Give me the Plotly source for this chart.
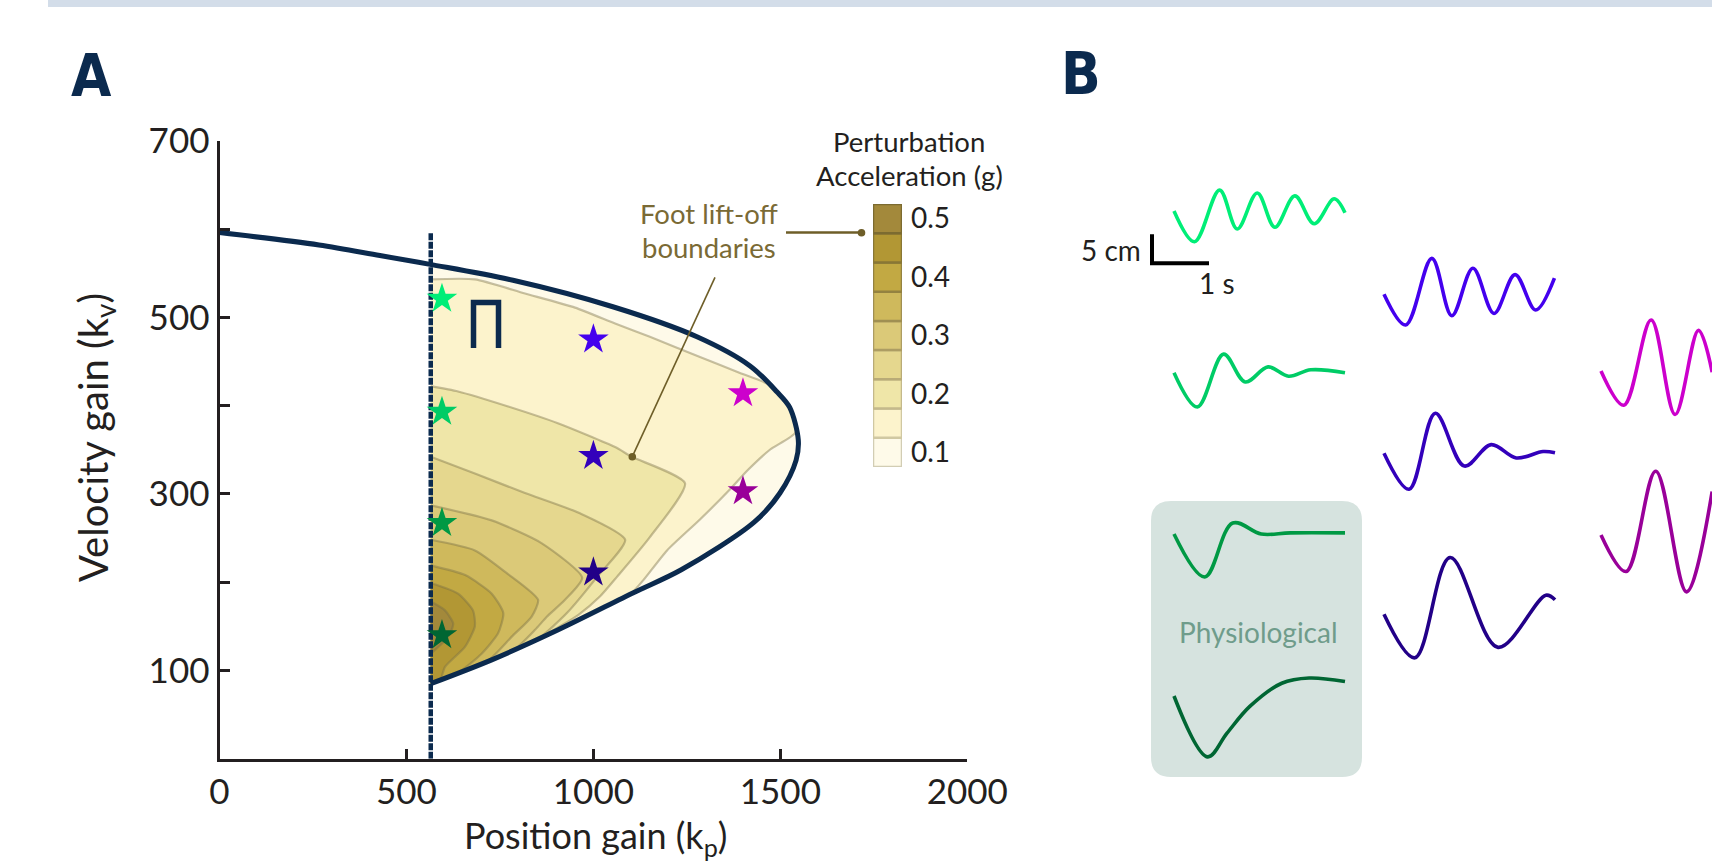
import plotly.graph_objects as go
import numpy as np

W, H = 1712, 862

# ---------------- data ----------------
levels = [0.10, 0.15, 0.20, 0.25, 0.30, 0.35, 0.40, 0.45, 0.50]
level_colors = ['#fefae9', '#fcf3cc', '#efe6a8', '#e5d78e', '#dbc978',
                '#cfb95c', '#c2a943', '#b29734', '#a3893b']
level_edges = ['#d2cdb4', '#d0c8a2', '#c4b98b', '#b9ab77', '#ad9d63',
               '#a08f52', '#948240', '#897735', '#7c6b30']

# stability boundary (position gain kp, velocity gain kv): upper branch, nose, lower branch
bound_kp = [0, 266, 429, 563, 785, 1052, 1277, 1419, 1490, 1525, 1548,
            1542, 1499, 1430, 1235, 1107, 906, 728, 565]
bound_kv = [596, 582, 570, 560, 542, 512, 478, 445, 416, 398, 361,
            338, 301, 268, 214, 188, 146, 112, 85]
kp_min = 565          # vertical (dotted) boundary
kp_min_top = 597

# contour lines of perturbation acceleration (lower level -> higher)
c015_kp = [565, 683, 817, 951, 1058, 1151, 1285, 1392, 1464, 1490, 1525, 1541,
           1472, 1413, 1365, 1285, 1197, 1133, 1100]
c015_kv = [543, 543, 527, 511, 493, 478, 455, 437, 425, 415, 397, 370,
           350, 327, 305, 271, 236, 202, 187]
c020_kp = [565, 638, 772, 905, 1058, 1103, 1245, 1151, 1063, 1018, 960, 870]
c020_kv = [422, 416, 399, 380, 353, 342, 312, 251, 206, 184, 163, 140]
c025_kp = [565, 683, 817, 964, 1085, 1010, 929, 850]
c025_kv = [342, 323, 301, 278, 248, 206, 165, 135]
c030_kp = [565, 728, 862, 970, 924, 876, 844, 790]
c030_kv = [287, 270, 244, 205, 180, 161, 146, 124]
c035_kp = [565, 683, 769, 852, 835, 781, 718]
c035_kv = [248, 236, 210, 180, 161, 138, 111]
c040_kp = [565, 657, 728, 759, 745, 701, 640]
c040_kv = [219, 208, 187, 165, 142, 119, 98]
c045_kp = [565, 638, 678, 683, 657, 603, 590]
c045_kv = [199, 187, 168, 150, 127, 104, 89]
c050_kp = [565, 603, 625, 612, 565]
c050_kv = [178, 168, 153, 138, 119]
contours = [(c015_kp, c015_kv), (c020_kp, c020_kv), (c025_kp, c025_kv),
            (c030_kp, c030_kv), (c035_kp, c035_kv), (c040_kp, c040_kv),
            (c045_kp, c045_kv), (c050_kp, c050_kv)]

# example gains (stars) and their colours
star_kp = [595, 595, 595, 595, 1000, 1000, 1000, 1400, 1400]
star_kv = [521, 393, 267, 140, 475, 343, 211, 414, 303]
star_colors = ['#00ee77', '#00cc66', '#009944', '#006633',
               '#4400ee', '#3300bb', '#220088', '#cc00cc', '#990099']

# axis ticks
x_ticks = [0, 500, 1000, 1500, 2000]
y_ticks = [100, 300, 500, 700]
y_minor = [200, 400, 600]
cb_ticks = [0.1, 0.2, 0.3, 0.4, 0.5]

# sway responses (time s, displacement cm)
g1_t = [0, 0.36, 0.80, 1.11, 1.46, 1.77, 2.12, 2.46, 2.81, 3.0]
g1_d = [0, -5.3, 3.6, -3.1, 3.1, -2.8, 2.6, -2.2, 2.1, -0.3]
g2_t = [0, 0.41, 0.87, 1.25, 1.65, 2.01, 2.40, 3.0]
g2_d = [0, -5.9, 3.2, -1.6, 1.0, -0.6, 0.5, 0.0]
g3_t = [0, 0.54, 1.03, 1.53, 2.04, 3.0]
g3_d = [0, -7.4, 1.9, 0.0, 0.2, 0.2]
g4_t = [0, 0.59, 0.93, 1.33, 1.89, 2.37, 3.0]
g4_d = [0, -10.5, -6.4, -1.8, 2.2, 3.1, 2.5]
p1_t = [0, 0.38, 0.84, 1.19, 1.56, 1.93, 2.30, 2.66, 2.99]
p1_d = [0, -5.3, 6.2, -3.7, 4.5, -3.3, 3.4, -2.7, 2.8]
p2_t = [0, 0.44, 0.90, 1.41, 1.88, 2.32, 2.79, 3.0]
p2_d = [0, -6.2, 6.9, -2.2, 1.5, -0.8, 0.3, 0.1]
p3_t = [0, 0.54, 1.16, 2.00, 2.84, 3.0]
p3_d = [0, -7.5, 9.8, -5.7, 3.3, 2.5]
m1_t = [0, 0.40, 0.88, 1.30, 1.71, 1.95]
m1_d = [0, -5.9, 8.8, -7.5, 7.0, -0.2]
m2_t = [0, 0.44, 0.96, 1.50, 1.95]
m2_d = [0, -6.3, 11.0, -9.8, 7.5]

scale_t = 1.0   # s
scale_d = 5.0   # cm

# ---------------- helpers (layout positions in pixels) ----------------
def fx(x):
    return x / W


def fy(y):
    return 1 - y / H


TXT = '#231f20'
NAVY = '#0b2a4e'
OLIVE = '#6e5e28'
FONT = 'Lato, "Open Sans", sans-serif'

fig = go.Figure()

# ---------------- panel A: contour fills ----------------
nose = int(np.argmax(bound_kp))
up_kp, up_kv = bound_kp[:nose + 1], bound_kv[:nose + 1]
lo_kp, lo_kv = bound_kp[nose:], bound_kv[nose:]

top_kv = float(np.interp(kp_min, up_kp, up_kv))
r0x = [kp_min] + [a for a in up_kp if a > kp_min] + lo_kp[1:]
r0y = [top_kv] + [b for a, b in zip(up_kp, up_kv) if a > kp_min] + lo_kv[1:]
fig.add_trace(go.Scatter(x=r0x, y=r0y, mode='lines', fill='toself',
                         fillcolor=level_colors[0],
                         line=dict(width=0, shape='spline', smoothing=0.8),
                         hoverinfo='skip', showlegend=False))

for k, (lkp, lkv) in enumerate(contours, start=1):
    xs, ys = list(lkp), list(lkv)
    end = lkp[-1]
    for a, b in zip(lo_kp, lo_kv):
        if a < end - 1e-9:
            xs.append(a); ys.append(b)
    fig.add_trace(go.Scatter(x=xs, y=ys, mode='lines', fill='toself',
                             fillcolor=level_colors[k],
                             line=dict(color='rgba(120,110,70,0.42)', width=2.2,
                                       shape='spline', smoothing=0.6),
                             hoverinfo='skip', showlegend=False))

# boundary curve
fig.add_trace(go.Scatter(x=bound_kp, y=bound_kv, mode='lines',
                         line=dict(color=NAVY, width=5, shape='spline', smoothing=0.9),
                         hoverinfo='skip', showlegend=False))
# vertical dotted boundary
fig.add_trace(go.Scatter(x=[kp_min, kp_min], y=[0, kp_min_top], mode='lines',
                         line=dict(color=NAVY, width=4.5, dash='7px,1.5px'),
                         hoverinfo='skip', showlegend=False))
# stars
fig.add_trace(go.Scatter(x=star_kp, y=star_kv, mode='markers',
                         marker=dict(symbol='star', size=23, color=star_colors,
                                     line=dict(width=0)),
                         hoverinfo='skip', showlegend=False))

# ---------------- colour bar (panel A) ----------------
fig.add_trace(go.Bar(x=[0] * len(levels), y=[0.05] * len(levels),
                     base=[v - 0.025 for v in levels], width=1,
                     marker=dict(color=level_colors,
                                 line=dict(color=level_edges, width=2.5)),
                     xaxis='x3', yaxis='y3', hoverinfo='skip', showlegend=False))

# ---------------- panel B: sway traces ----------------
col_t0 = [(1174 - 1040) / 57, (1384 - 1040) / 57, (1601 - 1040) / 57]
cm_per_px = 5 / 29


def row(py):
    return (H - py) * cm_per_px


waves = [
    (g1_t, g1_d, star_colors[0], col_t0[0], row(211)),
    (g2_t, g2_d, star_colors[1], col_t0[0], row(372.7)),
    (g3_t, g3_d, star_colors[2], col_t0[0], row(534)),
    (g4_t, g4_d, star_colors[3], col_t0[0], row(696)),
    (p1_t, p1_d, star_colors[4], col_t0[1], row(294.3)),
    (p2_t, p2_d, star_colors[5], col_t0[1], row(453.3)),
    (p3_t, p3_d, star_colors[6], col_t0[1], row(614.3)),
    (m1_t, m1_d, star_colors[7], col_t0[2], row(371)),
    (m2_t, m2_d, star_colors[8], col_t0[2], row(535)),
]
for t, d, c, t0, y0 in waves:
    fig.add_trace(go.Scatter(x=[t0 + v for v in t], y=[y0 + v for v in d],
                             mode='lines', xaxis='x2', yaxis='y2',
                             line=dict(color=c, width=3.6, shape='spline', smoothing=1.0),
                             hoverinfo='skip', showlegend=False))

sb_t0, sb_y0 = (1152 - 1040) / 57, row(263.3)
fig.add_trace(go.Scatter(x=[sb_t0, sb_t0, sb_t0 + scale_t],
                         y=[sb_y0 + scale_d, sb_y0, sb_y0], mode='lines',
                         xaxis='x2', yaxis='y2',
                         line=dict(color='black', width=4),
                         hoverinfo='skip', showlegend=False))

# ---------------- shapes ----------------
shapes = []
shapes.append(dict(type='rect', xref='paper', yref='paper', x0=fx(48), x1=1.0,
                   y0=fy(7), y1=1.0, fillcolor='#d3dde9', line=dict(width=0),
                   layer='below'))
bx0, bx1, by0, by1, r = 1151, 1362, 501, 777, 20
P = lambda x, y: f'{fx(x):.5f},{fy(y):.5f}'
path = (f'M {P(bx0 + r, by0)} L {P(bx1 - r, by0)} Q {P(bx1, by0)} {P(bx1, by0 + r)} '
        f'L {P(bx1, by1 - r)} Q {P(bx1, by1)} {P(bx1 - r, by1)} '
        f'L {P(bx0 + r, by1)} Q {P(bx0, by1)} {P(bx0, by1 - r)} '
        f'L {P(bx0, by0 + r)} Q {P(bx0, by0)} {P(bx0 + r, by0)} Z')
shapes.append(dict(type='path', xref='paper', yref='paper', path=path,
                   fillcolor='#d6e3df', line=dict(width=0), layer='below'))
# region symbol
shapes.append(dict(type='path', xref='paper', yref='paper',
                   path=f'M {P(473.5, 348)} L {P(473.5, 302.5)} L {P(498.5, 302.5)} L {P(498.5, 348)}',
                   line=dict(color=NAVY, width=5.5)))
# leader lines with dots
shapes.append(dict(type='line', xref='paper', yref='paper', x0=fx(786), y0=fy(232.5),
                   x1=fx(861), y1=fy(232.5), line=dict(color=OLIVE, width=2.6)))
shapes.append(dict(type='line', xref='paper', yref='paper', x0=fx(715), y0=fy(277.3),
                   x1=fx(632.3), y1=fy(456.7), line=dict(color=OLIVE, width=1.6)))
for cx, cy in [(861.5, 232.8), (632.3, 456.7)]:
    shapes.append(dict(type='circle', xref='paper', yref='paper', x0=fx(cx - 3.8),
                       x1=fx(cx + 3.8), y0=fy(cy + 3.8), y1=fy(cy - 3.8),
                       fillcolor=OLIVE, line=dict(width=0)))

# ---------------- annotations ----------------
ann = []


def text(x, y, s, size, color=TXT, family=FONT, xanchor='center', angle=0, yanchor='middle'):
    ann.append(dict(x=fx(x), y=fy(y), xref='paper', yref='paper', text=s,
                    showarrow=False, xanchor=xanchor, yanchor=yanchor, textangle=angle,
                    font=dict(size=size, color=color, family=family)))


LBL = '"DejaVu Sans Condensed", Lato, sans-serif'
text(91, 76, '<b>A</b>', 58, NAVY, LBL)
text(1081, 74, '<b>B</b>', 58, NAVY, LBL)
text(96, 438, 'Velocity gain (k<sub>v</sub>)', 40, angle=-90)
text(595, 864, 'Position gain (k<sub>p</sub>)', 36, yanchor='bottom')
text(909, 141, 'Perturbation', 27.5)
text(909, 175, 'Acceleration (g)', 27.5)
text(709, 213, 'Foot lift-off', 27.5, '#7a6a35')
text(709, 247, 'boundaries', 27.5, '#7a6a35')
text(1143, 250, '5 cm', 28, xanchor='right')
text(1217, 283, '1 s', 28)
text(1258, 632, 'Physiological', 28, '#6f9c8b')

axis_style = dict(showline=True, linecolor=TXT, linewidth=3, ticks='inside',
                  ticklen=10, tickwidth=3, tickcolor=TXT, showgrid=False,
                  zeroline=False, automargin=False,
                  tickfont=dict(size=35, color=TXT, family=FONT))

fig.update_layout(
    template='none',
    width=W, height=H, margin=dict(l=0, r=0, t=0, b=0, pad=0, autoexpand=False),
    paper_bgcolor='white', plot_bgcolor='rgba(0,0,0,0)',
    showlegend=False, barmode='overlay',
    xaxis=dict(domain=[fx(219.5), fx(967.3)], range=[0, 2000],
               tickvals=x_ticks, ticktext=[str(v) for v in x_ticks], **axis_style),
    yaxis=dict(domain=[fy(758.7), fy(140.8)], range=[0, 700],
               tickvals=y_ticks, ticktext=[str(v) for v in y_ticks],
               minor=dict(tickvals=y_minor, ticks='inside', ticklen=10, tickwidth=3,
                          tickcolor=TXT, showgrid=False),
               **axis_style),
    xaxis2=dict(domain=[fx(1040), 1.0], range=[0, (W - 1040) / 57], visible=False,
                anchor='y2', automargin=False),
    yaxis2=dict(domain=[0, 1], range=[0, H * cm_per_px], visible=False, anchor='x2',
                automargin=False),
    xaxis3=dict(domain=[fx(873), fx(902)], range=[-0.5, 0.5], visible=False,
                anchor='y3', automargin=False),
    yaxis3=dict(domain=[fy(467), fy(204)], range=[0.075, 0.525], anchor='x3',
                side='right', showline=False, showgrid=False, zeroline=False,
                ticks='', tickvals=cb_ticks, automargin=False,
                ticktext=[f'{v:.1f}' for v in cb_ticks], ticklabelstandoff=8,
                tickfont=dict(size=28, color=TXT, family=FONT)),
    shapes=shapes, annotations=ann,
)

fig.write_html("out.html", config={'displayModeBar': False},
               post_script="document.body.style.margin='0';document.body.style.overflow='hidden';")
